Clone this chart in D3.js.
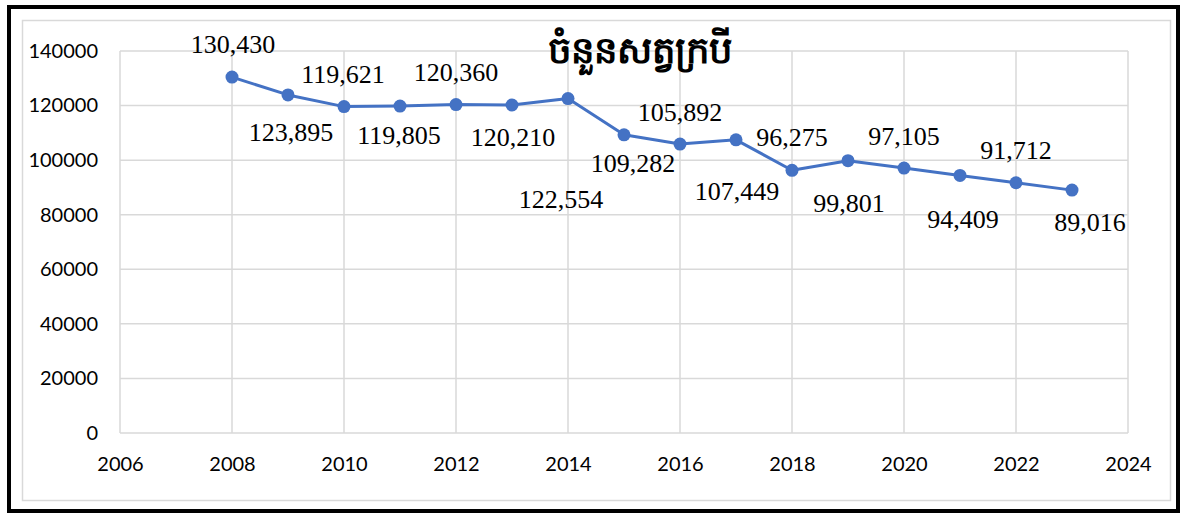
<!DOCTYPE html>
<html>
<head>
<meta charset="utf-8">
<script src="https://cdn.jsdelivr.net/npm/d3@7"></script>
<style>
  body { margin: 0; background: #fff; }
</style>
</head>
<body>
<script>
const years = [2008, 2009, 2010, 2011, 2012, 2013, 2014, 2015, 2016, 2017, 2018, 2019, 2020, 2021, 2022, 2023]
const buffalo = [130430, 123895, 119621, 119805, 120360, 120210, 122554, 109282, 105892, 107449, 96275, 99801, 97105, 94409, 91712, 89016]
const xTicks = [2006, 2008, 2010, 2012, 2014, 2016, 2018, 2020, 2022, 2024]
const yTicks = [0, 20000, 40000, 60000, 80000, 100000, 120000, 140000]
const title = "ចំនួនសត្វក្របី"

// where each data label sits relative to its point (like excel put them)
const labelOffset = [
  [1, -33], [3, 37], [-1, -33], [-1, 29], [0, -33], [1, 32], [-7, 100], [9, 28],
  [0, -32], [1, 51], [0, -33], [1, 42], [0, -32], [3, 44], [0, -33], [18, 32]
]

const w = 1186
const h = 515
const m = { left: 120, right: 1128, top: 51, bottom: 433 }

const svg = d3.select("body")
  .append("svg")
  .attr("width", w)
  .attr("height", h)

// frames
svg.append("rect")
  .attr("x", 9).attr("y", 7)
  .attr("width", 1169).attr("height", 504)
  .attr("fill", "none")
  .attr("stroke", "#000")
  .attr("stroke-width", 4)

svg.append("rect")
  .attr("x", 22.5).attr("y", 20.5)
  .attr("width", 1148).attr("height", 480)
  .attr("fill", "none")
  .attr("stroke", "#d9d9d9")
  .attr("stroke-width", 1.5)

const x = d3.scaleLinear()
  .domain([2006, 2024])
  .range([m.left, m.right])

const y = d3.scaleLinear()
  .domain([0, 140000])
  .range([m.bottom, m.top])

// grid
svg.append("g")
  .selectAll("line")
  .data(yTicks)
  .enter()
  .append("line")
  .attr("x1", m.left).attr("x2", m.right)
  .attr("y1", d => y(d)).attr("y2", d => y(d))
  .attr("stroke", "#d9d9d9")
  .attr("stroke-width", 1.5)

svg.append("g")
  .selectAll("line")
  .data(xTicks)
  .enter()
  .append("line")
  .attr("x1", d => x(d)).attr("x2", d => x(d))
  .attr("y1", m.top).attr("y2", m.bottom)
  .attr("stroke", "#d9d9d9")
  .attr("stroke-width", 1.5)

// axes (labels only)
const yAxis = svg.append("g")
  .attr("transform", `translate(${m.left},0)`)
  .call(d3.axisLeft(y).tickValues(yTicks).tickFormat(d3.format("d")).tickSize(0).tickPadding(22))
yAxis.select(".domain").remove()

const xAxis = svg.append("g")
  .attr("transform", `translate(0,${m.bottom})`)
  .call(d3.axisBottom(x).tickValues(xTicks).tickFormat(d3.format("d")).tickSize(0).tickPadding(24))
xAxis.select(".domain").remove()

svg.selectAll(".tick text")
  .attr("font-family", "Lato, 'Open Sans', sans-serif")
  .attr("font-size", "20px")
  .attr("fill", "#000")

// line + points
const line = d3.line()
  .x((d, i) => x(years[i]))
  .y(d => y(d))

svg.append("path")
  .datum(buffalo)
  .attr("d", line)
  .attr("fill", "none")
  .attr("stroke", "#4472c4")
  .attr("stroke-width", 3)
  .attr("stroke-linejoin", "round")

svg.selectAll("circle")
  .data(buffalo)
  .enter()
  .append("circle")
  .attr("cx", (d, i) => x(years[i]))
  .attr("cy", d => y(d))
  .attr("r", 6.5)
  .attr("fill", "#4472c4")

// data labels
svg.append("g")
  .selectAll("text")
  .data(buffalo)
  .enter()
  .append("text")
  .attr("x", (d, i) => x(years[i]) + labelOffset[i][0])
  .attr("y", (d, i) => y(d) + labelOffset[i][1])
  .attr("dy", "0.35em")
  .attr("text-anchor", "middle")
  .attr("font-family", "'Liberation Serif', 'Times New Roman', serif")
  .attr("font-size", "26px")
  .attr("fill", "#000")
  .text(d => d3.format(",")(d))

// title
svg.append("text")
  .attr("x", 640)
  .attr("y", 50)
  .attr("dy", "0.35em")
  .attr("text-anchor", "middle")
  .attr("font-size", "37px")
  .attr("font-weight", "bold")
  .attr("fill", "#000")
  .text(title)
</script>
</body>
</html>
